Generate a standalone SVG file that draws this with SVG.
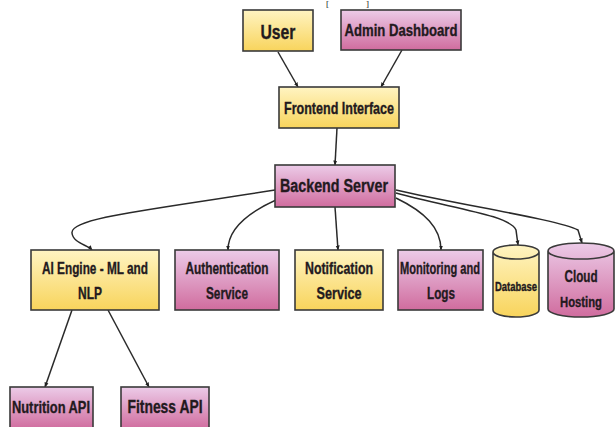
<svg xmlns="http://www.w3.org/2000/svg" width="615" height="427" viewBox="0 0 615 427">
<defs>
<linearGradient id="gy" x1="0" y1="0" x2="0" y2="1">
<stop offset="0" stop-color="#fff4c2"/>
<stop offset="1" stop-color="#f8d45c"/>
</linearGradient>
<linearGradient id="gp" x1="0" y1="0" x2="0" y2="1">
<stop offset="0" stop-color="#eccbe8"/>
<stop offset="1" stop-color="#d06c9e"/>
</linearGradient>
<marker id="ar" viewBox="0 0 10 10" refX="9" refY="5" markerWidth="5" markerHeight="5" orient="auto" markerUnits="userSpaceOnUse">
<path d="M0,1 L10,5 L0,9 z" fill="#222"/>
</marker>
<style>
.y{fill:url(#gy);stroke:#3a3a3a;stroke-width:1.6}
.p{fill:url(#gp);stroke:#3a3a3a;stroke-width:1.6}
.t{font-family:"Liberation Sans Narrow","Liberation Sans",Arial,sans-serif;font-weight:bold;fill:#231a1e;stroke:#231a1e;stroke-width:0.35;text-anchor:middle;dominant-baseline:central;font-size:17px}
.c{fill:none;stroke:#2a2a2a;stroke-width:1.5;marker-end:url(#ar)}
.b{font-family:"Liberation Serif",serif;font-size:9px;fill:#111}
</style>
</defs>
<rect width="615" height="427" fill="#fff"/>
<text class="b" x="326" y="6.5">[</text>
<text class="b" x="366" y="6.5">]</text>
<g id="connectors">
<path class="c" d="M278,52 L298,87"/>
<path class="c" d="M402,50 L381,87"/>
<path class="c" d="M337,128 L335,165"/>
<path class="c" d="M275,190 C150,210 70,218 72,233 C73,243 88,245 92,250"/>
<path class="c" d="M276,200 C245,214 228,230 228,250"/>
<path class="c" d="M335,207 L338,250"/>
<path class="c" d="M396,198 C425,212 441,228 441,250"/>
<path class="c" d="M396,193 C450,208 510,215 516,230 L518,245"/>
<path class="c" d="M396,190 C460,205 560,220 578,230 L582,243"/>
<path class="c" d="M72,310 L45,387"/>
<path class="c" d="M108,310 L149,387"/>
</g>
<g id="user"><rect class="y" x="243" y="10" width="70" height="41"/><text class="t" x="278" y="31" style="font-size:21px" textLength="35" lengthAdjust="spacingAndGlyphs">User</text></g>
<g id="admin"><rect class="p" x="341" y="10" width="120" height="40"/><text class="t" x="401" y="30" textLength="113" lengthAdjust="spacingAndGlyphs">Admin Dashboard</text></g>
<g id="frontend"><rect class="y" x="279" y="87" width="120" height="41"/><text class="t" x="339" y="108" textLength="110" lengthAdjust="spacingAndGlyphs">Frontend Interface</text></g>
<g id="backend"><rect class="p" x="275" y="165" width="120" height="42"/><text class="t" x="334" y="186" style="font-size:18px" textLength="108" lengthAdjust="spacingAndGlyphs">Backend Server</text></g>
<g id="ai"><rect class="y" x="31" y="250" width="128" height="60"/><text class="t" x="95" y="268" textLength="106" lengthAdjust="spacingAndGlyphs">AI Engine - ML and</text><text class="t" x="90" y="293" textLength="24" lengthAdjust="spacingAndGlyphs">NLP</text></g>
<g id="auth"><rect class="p" x="175" y="250" width="104" height="60"/><text class="t" x="227" y="268" textLength="83" lengthAdjust="spacingAndGlyphs">Authentication</text><text class="t" x="227" y="293" textLength="42" lengthAdjust="spacingAndGlyphs">Service</text></g>
<g id="notif"><rect class="y" x="295" y="250" width="88" height="60"/><text class="t" x="339" y="268" textLength="68" lengthAdjust="spacingAndGlyphs">Notification</text><text class="t" x="339" y="293" textLength="45" lengthAdjust="spacingAndGlyphs">Service</text></g>
<g id="monitor"><rect class="p" x="398" y="250" width="85" height="60"/><text class="t" x="440" y="268" textLength="80" lengthAdjust="spacingAndGlyphs">Monitoring and</text><text class="t" x="441" y="293" textLength="28" lengthAdjust="spacingAndGlyphs">Logs</text></g>
<g id="database"><path class="y" d="M493,252 L493,310 A23,7 0 0 0 539,310 L539,252 A23,7 0 0 0 493,252 A23,7 0 0 0 539,252"/><text class="t" x="516" y="287" style="font-size:12px" textLength="42" lengthAdjust="spacingAndGlyphs">Database</text></g>
<g id="cloud"><path class="p" d="M548,251 L548,309 A33,8 0 0 0 614,309 L614,251 A33,8 0 0 0 548,251 A33,8 0 0 0 614,251"/><text class="t" x="581" y="276" textLength="33" lengthAdjust="spacingAndGlyphs">Cloud</text><text class="t" x="581" y="301" style="font-size:15px" textLength="42" lengthAdjust="spacingAndGlyphs">Hosting</text></g>
<g id="nutrition"><rect class="p" x="10" y="387" width="83" height="42"/><text class="t" x="51" y="407" textLength="78" lengthAdjust="spacingAndGlyphs">Nutrition API</text></g>
<g id="fitness"><rect class="p" x="121" y="387" width="88" height="42"/><text class="t" x="165" y="407" style="font-size:18px" textLength="75" lengthAdjust="spacingAndGlyphs">Fitness API</text></g>
</svg>
